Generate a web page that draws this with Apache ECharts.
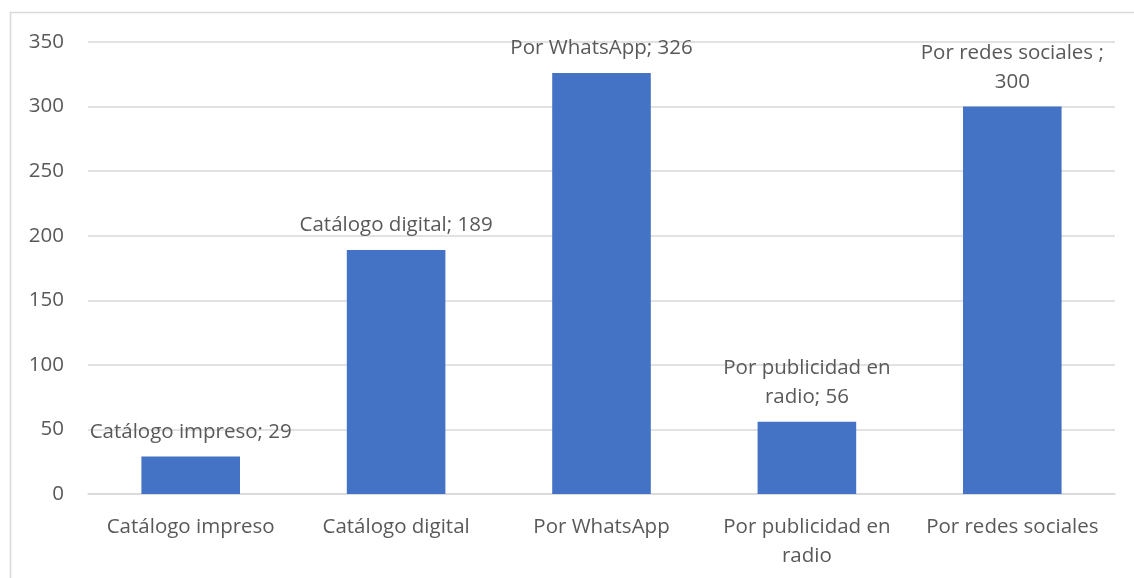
<!DOCTYPE html>
<html>
<head>
<meta charset="utf-8">
<script src="https://cdn.jsdelivr.net/npm/echarts@6/dist/echarts.min.js"></script>
<style>
  html, body { margin: 0; padding: 0; background: #fff; }
  #chart { width: 1134px; height: 578px; }
</style>
</head>
<body>
<div id="chart"></div>
<script>
// data
const categories = ['Catálogo impreso', 'Catálogo digital', 'Por WhatsApp', 'Por publicidad en\nradio', 'Por redes sociales'];
const values = [29, 189, 326, 56, 300];
const dataLabels = ['Catálogo impreso; 29', 'Catálogo digital; 189', 'Por WhatsApp; 326', 'Por publicidad en\nradio; 56', 'Por redes sociales ;\n300'];
const yTicks = [0, 50, 100, 150, 200, 250, 300, 350];

const textColor = '#595959';
const font = '"Open Sans", "Noto Sans", sans-serif';
const fs = 20.5;

const chart = echarts.init(document.getElementById('chart'));
chart.setOption({
  animation: false,
  textStyle: { fontFamily: font },
  graphic: [{
    type: 'rect',
    shape: { x: 10.5, y: 12.5, width: 1200, height: 700 },
    style: { fill: 'none', stroke: '#d9d9d9', lineWidth: 1.5 },
    silent: true
  }],
  grid: { left: 88, right: 19, top: 42, bottom: 84 },
  xAxis: {
    type: 'category',
    data: categories,
    axisLine: { lineStyle: { color: '#d9d9d9', width: 1.5 } },
    axisTick: { length: 8, lineStyle: { color: '#d9d9d9', width: 1.5 } },
    axisLabel: {
      color: textColor, fontSize: fs, fontFamily: font,
      margin: 19, lineHeight: 29, interval: 0
    }
  },
  yAxis: {
    type: 'value',
    min: yTicks[0],
    max: yTicks[yTicks.length - 1],
    interval: 50,
    axisLine: { show: false },
    axisTick: { show: false },
    splitLine: { lineStyle: { color: '#d9d9d9', width: 1.5 } },
    axisLabel: { color: textColor, fontSize: fs, fontFamily: font, margin: 24 }
  },
  series: [{
    type: 'bar',
    data: values,
    barWidth: '48%',
    itemStyle: { color: '#4472c4' },
    label: {
      show: true,
      position: 'top',
      distance: 10,
      color: textColor,
      fontSize: fs,
      fontFamily: font,
      lineHeight: 29,
      align: 'center',
      formatter: p => dataLabels[p.dataIndex]
    }
  }]
});
</script>
</body>
</html>
